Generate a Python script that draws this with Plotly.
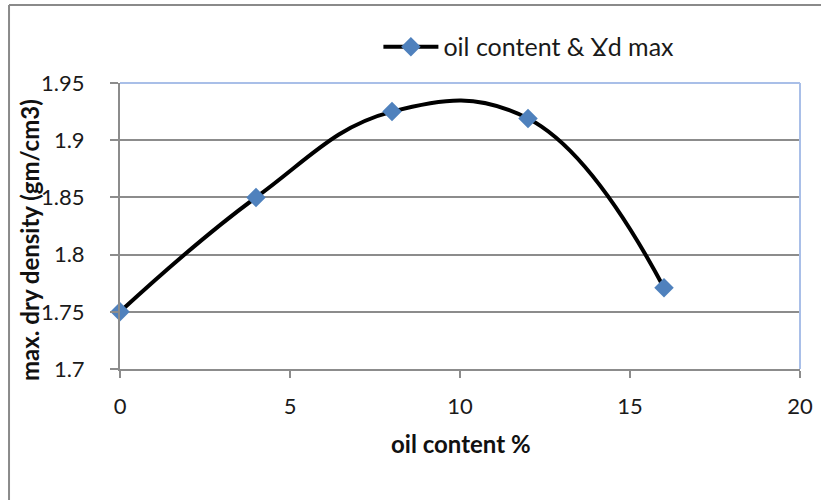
import plotly.graph_objects as go

# Oil content (%) vs. maximum dry density (gm/cm3)
oil_content = [0, 4, 8, 12, 16]
max_dry_density = [1.75, 1.85, 1.925, 1.919, 1.771]
series_name = "oil content & Ɣd max"

x_ticks = [0, 5, 10, 15, 20]
y_ticks = [1.7, 1.75, 1.8, 1.85, 1.9, 1.95]

x_title = "oil content %"
y_title = "max. dry density (gm/cm3)"

FONT = "Lato, 'Open Sans', sans-serif"
GRID = "#8c8c8c"
BLUE_EDGE = "#a9bfe8"
TEXT = "#1a1a1a"

fig = go.Figure()
fig.add_trace(go.Scatter(
    x=oil_content,
    y=max_dry_density,
    mode="lines+markers",
    name=series_name,
    line=dict(color="black", width=4, shape="spline", smoothing=1.2),
    marker=dict(symbol="diamond", size=15, color="#4f81bd",
                line=dict(width=0)),
    cliponaxis=False,
    showlegend=True,
))

fig.update_layout(
    width=821, height=500,
    margin=dict(l=120, r=21, t=83, b=131, autoexpand=False),
    paper_bgcolor="white",
    plot_bgcolor="white",
    font=dict(family=FONT, color=TEXT, size=22),
    showlegend=True,
    legend=dict(
        x=0.38, y=1.126, xanchor="left", yanchor="middle",
        orientation="h",
        itemwidth=55,
        font=dict(size=25, family=FONT, color=TEXT),
        bgcolor="rgba(0,0,0,0)",
    ),
    xaxis=dict(
        range=[0, 20], tickvals=x_ticks, ticktext=[str(v) for v in x_ticks],
        showgrid=False, zeroline=False,
        showline=True, linecolor=GRID, linewidth=2,
        ticks="outside", ticklen=7, tickcolor=GRID, tickwidth=2,
        ticklabelstandoff=10,
        tickfont=dict(size=22, family=FONT, color=TEXT),
        automargin=False,
        fixedrange=True,
    ),
    yaxis=dict(
        range=[1.7, 1.95], tickvals=y_ticks,
        ticktext=["1.7", "1.75", "1.8", "1.85", "1.9", "1.95"],
        showgrid=True, gridcolor=GRID, gridwidth=2,
        zeroline=False,
        showline=True, linecolor=GRID, linewidth=2,
        ticks="outside", ticklen=8, tickcolor=GRID, tickwidth=2,
        ticklabelstandoff=21,
        tickfont=dict(size=22, family=FONT, color=TEXT),
        automargin=False,
        fixedrange=True,
    ),
    annotations=[
        dict(text="<b>" + x_title + "</b>", xref="paper", yref="paper",
             x=0.501, y=-0.262, xanchor="center", yanchor="middle",
             showarrow=False, font=dict(size=24, family=FONT, color="#111111")),
        dict(text="<b>" + y_title + "</b>", xref="paper", yref="paper",
             x=-0.1338, y=0.451, xanchor="center", yanchor="middle",
             textangle=-90, showarrow=False,
             font=dict(size=24, family=FONT, color="#111111")),
    ],
    shapes=[
        # light blue plot-area edges (top and right)
        dict(type="line", xref="paper", yref="paper", x0=0, x1=1, y0=1, y1=1,
             line=dict(color=BLUE_EDGE, width=2), layer="above"),
        dict(type="line", xref="paper", yref="paper", x0=1, x1=1, y0=0, y1=1,
             line=dict(color=BLUE_EDGE, width=2), layer="above"),
        # chart frame
        dict(type="line", xref="paper", yref="paper",
             x0=-0.1632, x1=1.2, y0=1.2727, y1=1.2727,
             line=dict(color="#8a8a8a", width=2)),
        dict(type="line", xref="paper", yref="paper",
             x0=-0.1632, x1=-0.1632, y0=-0.6, y1=1.2727,
             line=dict(color="#8a8a8a", width=2)),
    ],
)

fig.write_html("out.html")
